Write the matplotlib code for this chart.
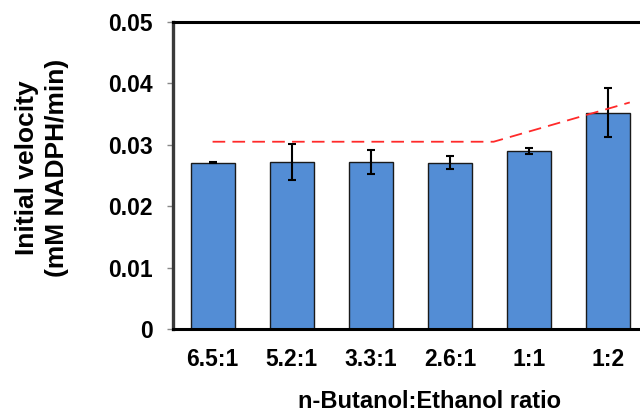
import numpy as np
import matplotlib
matplotlib.use("Agg")
import matplotlib.pyplot as plt

plt.rcParams['font.family'] = ['Liberation Sans', 'DejaVu Sans']
plt.rcParams['font.weight'] = 'bold'

ratios = ['6.5:1', '5.2:1', '3.3:1', '2.6:1', '1:1', '1:2']
velocity = [0.0271, 0.0272, 0.0272, 0.0271, 0.0290, 0.0352]
errors = [0.0001, 0.0030, 0.0020, 0.0010, 0.0005, 0.0040]

# dashed trend line (x in bar index units)
trend_x = [0, 3.55, 5.27]
trend_y = [0.0305, 0.0305, 0.0369]

fig = plt.figure(figsize=(6.4, 4.15), dpi=100)
ax = fig.add_axes([173/640, 86/415, 475/640, 307/415])

x = np.arange(len(ratios))
ax.bar(x, velocity, width=0.555, color='#538DD5', edgecolor='#1a1a1a',
       linewidth=1.0, zorder=2)
ax.errorbar(x, velocity, yerr=errors, fmt='none', ecolor='black',
            elinewidth=1.5, capsize=3, capthick=1.5, zorder=3)
ax.plot(trend_x, trend_y, color='#FF2A2A', lw=1.3, dashes=(7, 4), zorder=4)

ax.set_xlim(-0.5, 5.5)
ax.set_ylim(0, 0.05)
ax.set_yticks([0, 0.01, 0.02, 0.03, 0.04, 0.05])
ax.set_yticklabels(['0', '0.01', '0.02', '0.03', '0.04', '0.05'])
ax.set_xticks(x)
ax.set_xticklabels(ratios)
ax.tick_params(axis='y', length=4.5, width=1, color='#888888', pad=10,
               labelsize=16.5)
ax.tick_params(axis='x', length=0, pad=14, labelsize=16.5)

ax.spines['right'].set_visible(False)
ax.spines['top'].set_linewidth(2.2)
ax.spines['bottom'].set_linewidth(2.2)
ax.spines['left'].set_linewidth(2.4)
ax.spines['left'].set_color('#3a3a3a')

fig.text(42/640, 1 - 168/415, 'Initial velocity\n(mM NADPH/min)', rotation=90,
         ha='center', va='center', fontsize=19, fontweight='bold',
         linespacing=1.3)
fig.text(430/640, 1 - 401/415, 'n-Butanol:Ethanol ratio', ha='center',
         va='center', fontsize=17, fontweight='bold')

fig.savefig('out.png', dpi=100)
